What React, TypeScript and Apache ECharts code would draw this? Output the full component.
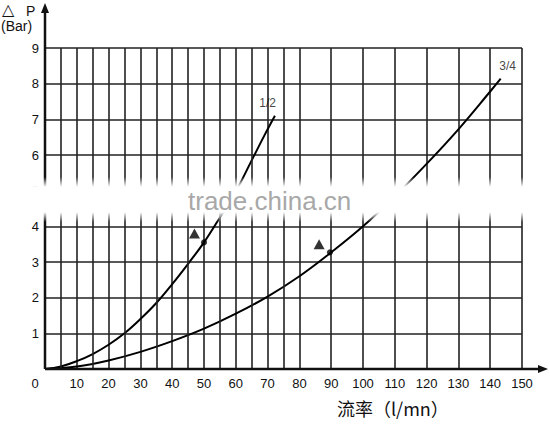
import React, { useEffect, useRef } from "react";
import * as echarts from "echarts";

// ---- data ----
const xTickValues = [0, 10, 20, 30, 40, 50, 60, 70, 80, 90, 100, 110, 120, 130, 140, 150];
const yTickValues = [0, 1, 2, 3, 4, 5, 6, 7, 8, 9];
const minorGridX = [5, 15, 25, 35, 45, 55, 65, 75];

const curve12X = [0, 5, 10, 15, 20, 25, 30, 35, 40, 45, 50, 55, 60, 65, 69, 72.3];
const curve12Y = [0, 0.07, 0.22, 0.42, 0.68, 1.0, 1.4, 1.85, 2.38, 2.95, 3.55, 4.25, 4.98, 5.85, 6.55, 7.1];

const curve34X = [0, 10, 20, 30, 40, 50, 60, 70, 80, 90, 100, 110, 120, 130, 140, 143.3];
const curve34Y = [0, 0.07, 0.24, 0.48, 0.78, 1.13, 1.55, 2.03, 2.6, 3.27, 4.0, 4.84, 5.75, 6.72, 7.78, 8.14];

const dotPoints = [[50, 3.55], [89.6, 3.27]];
const trianglePoints = [[47, 3.8], [86.2, 3.5]];

const curveLabels = [
  { name: "1/2", x: 70, y: 7.45 },
  { name: "3/4", x: 145.5, y: 8.5 },
];

const FONT = "'Liberation Sans', Arial, Helvetica, sans-serif";

export default function App() {
  const ref = useRef<HTMLDivElement>(null);

  useEffect(() => {
    if (!ref.current) return;
    const chart = echarts.init(ref.current, null, { renderer: "svg" });
    const lineColor = "#222";

    const option: any = {
      animation: false,
      backgroundColor: "#fff",
      grid: { left: 45, right: 28, top: 48, bottom: 55, containLabel: false },
      xAxis: {
        type: "value",
        min: xTickValues[0],
        max: xTickValues[xTickValues.length - 1],
        interval: 10,
        axisLine: { show: false },
        axisTick: { show: false },
        splitLine: { show: true, lineStyle: { color: lineColor, width: 1.6 } },
        axisLabel: {
          color: "#111",
          fontFamily: FONT,
          fontSize: 13,
          margin: 8,
          formatter: (v: number) => (v === 0 ? "{z|0}" : String(v)),
          rich: { z: { padding: [0, 20, 0, 0], fontFamily: FONT, fontSize: 13, color: "#111" } },
        },
      },
      yAxis: {
        type: "value",
        min: yTickValues[0],
        max: yTickValues[yTickValues.length - 1],
        interval: 1,
        axisLine: { show: false },
        axisTick: { show: false },
        splitLine: { show: true, lineStyle: { color: lineColor, width: 1.6 } },
        axisLabel: {
          color: "#111",
          fontFamily: FONT,
          fontSize: 13,
          margin: 6,
          formatter: (v: number) => (v === 0 ? "" : String(v)),
        },
      },
      series: [
        {
          type: "line",
          data: [],
          silent: true,
          markLine: {
            silent: true,
            symbol: ["none", "none"],
            label: { show: false },
            lineStyle: { color: lineColor, width: 1.6, type: "solid" },
            data: minorGridX.map((x) => [{ coord: [x, 0] }, { coord: [x, 9] }]),
          },
        },
        {
          type: "line",
          data: curve12X.map((x, i) => [x, curve12Y[i]]),
          smooth: 0.4,
          showSymbol: false,
          lineStyle: { color: "#000", width: 2 },
        },
        {
          type: "line",
          data: curve34X.map((x, i) => [x, curve34Y[i]]),
          smooth: 0.4,
          showSymbol: false,
          lineStyle: { color: "#000", width: 2 },
        },
        {
          type: "scatter",
          data: dotPoints,
          symbol: "circle",
          symbolSize: 6,
          itemStyle: { color: "#000" },
        },
        {
          type: "scatter",
          data: trianglePoints,
          symbol: "triangle",
          symbolSize: [11, 10],
          itemStyle: { color: "#000" },
        },
        {
          type: "scatter",
          data: curveLabels.map((c) => ({ name: c.name, value: [c.x, c.y] })),
          symbolSize: 0,
          label: {
            show: true,
            position: "inside",
            formatter: (p: any) => p.name,
            color: "#111",
            fontFamily: FONT,
            fontSize: 12,
          },
        },
      ],
    };
    chart.setOption(option);

    const o = chart.convertToPixel({ gridIndex: 0 }, [0, 0]) as number[];
    const ox = o[0];
    const oy = o[1];
    const bandTop = 177;
    const bandH = 45;

    chart.setOption({
      graphic: [
        // x axis with arrow
        { type: "line", shape: { x1: ox, y1: oy, x2: 542, y2: oy }, style: { stroke: "#111", lineWidth: 2.5 }, z: 50 },
        { type: "polygon", shape: { points: [[548, oy], [538, oy - 4], [538, oy + 4]] }, style: { fill: "#111" }, z: 50 },
        // y axis with arrow
        { type: "line", shape: { x1: ox, y1: oy, x2: ox, y2: 10 }, style: { stroke: "#111", lineWidth: 2.5 }, z: 50 },
        { type: "polygon", shape: { points: [[ox, 3], [ox - 4, 13], [ox + 4, 13]] }, style: { fill: "#111" }, z: 50 },
        // axis titles
        { type: "text", x: 2, y: 1, style: { text: "△", font: `16px ${FONT}`, fill: "#111" }, z: 50 },
        { type: "text", x: 26, y: 4, style: { text: "P", font: `14px ${FONT}`, fill: "#111" }, z: 50 },
        { type: "text", x: 1, y: 19, style: { text: "(Bar)", font: `14px ${FONT}`, fill: "#111" }, z: 50 },
        {
          type: "text",
          x: 337,
          y: 399,
          style: { text: "流率（l/mn）", font: `18px 'Noto Sans CJK SC', ${FONT}`, fill: "#111" },
          z: 50,
        },
        // watermark band
        {
          type: "rect",
          shape: { x: 30, y: bandTop, width: 520, height: bandH },
          style: {
            fill: new echarts.graphic.LinearGradient(0, 0, 0, 1, [
              { offset: 0, color: "rgba(255,255,255,0)" },
              { offset: 0.22, color: "rgba(255,255,255,1)" },
              { offset: 0.78, color: "rgba(255,255,255,1)" },
              { offset: 1, color: "rgba(255,255,255,0)" },
            ]),
          },
          z: 100,
        },
        {
          type: "text",
          x: 188,
          y: 188,
          style: { text: "trade.china.cn", font: `26px ${FONT}`, fill: "#a8a8a8" },
          z: 101,
        },
      ],
    });

    return () => chart.dispose();
  }, []);

  return (
    <div
      ref={ref}
      style={{ position: "fixed", left: 0, top: 0, width: 550, height: 424, background: "#fff" }}
    />
  );
}
